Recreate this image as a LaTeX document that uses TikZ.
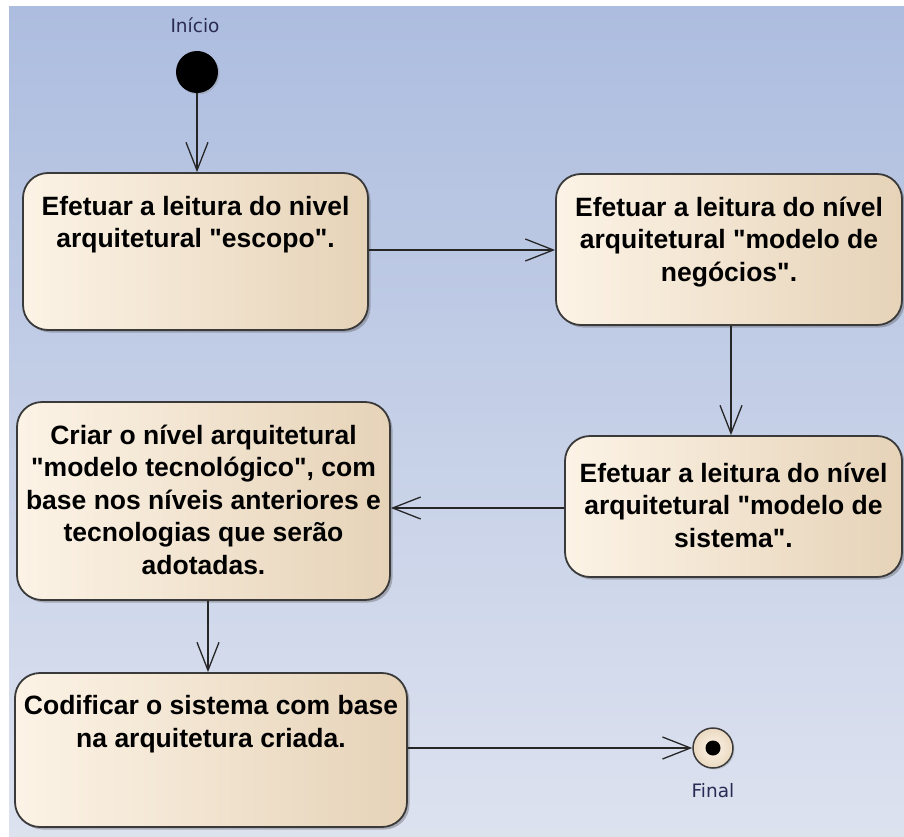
\documentclass[tikz,border=0pt]{standalone}
\usepackage{fontspec}
\setmainfont{Liberation Sans}[Ligatures=TeXOff]
\newfontfamily\lblfont{DejaVu Sans}
\usetikzlibrary{arrows.meta,shadows}
\definecolor{bgtop}{HTML}{ADBDDF}
\definecolor{bgbot}{HTML}{DDE2EF}
\definecolor{boxL}{HTML}{FCF3E6}
\definecolor{boxM}{HTML}{F9EEDE}
\definecolor{boxR}{HTML}{E6D3B8}
\definecolor{edge}{HTML}{3A3A3A}
\definecolor{lbl}{HTML}{2A2A55}
\tikzset{
  actbox/.style={rectangle, rounded corners=25pt, draw=edge, line width=1.8pt,
    left color=boxL, middle color=boxM, right color=boxR, inner sep=0pt,
    drop shadow={shadow xshift=2.5pt, shadow yshift=-2.5pt, opacity=0.35, fill=black!70}},
  acttext/.style={anchor=north, inner sep=0pt, align=center, text=black,
    font=\bfseries\fontsize{26.5}{32.5}\selectfont},
  flow/.style={line width=1.3pt, draw=black!85, -{Straight Barb[length=28pt,width=22pt,line width=1.3pt]}},
  smalllbl/.style={font=\lblfont\fontsize{18.5}{22}\selectfont, text=lbl, inner sep=0pt}
}
\begin{document}
\begin{tikzpicture}[x=1pt,y=-1pt]
\useasboundingbox (0,0) rectangle (904,837);
\fill[white] (0,0) rectangle (904,837);
\fill[top color=bgtop, bottom color=bgbot] (9,7) rectangle (904,837);

% initial and final nodes
\node[circle, fill=black, minimum size=42pt, inner sep=0pt,
  drop shadow={shadow xshift=1.5pt, shadow yshift=-1.5pt, opacity=0.3}] (start) at (197,72) {};
\node[smalllbl] (startlbl) at (195,25) {Início};

\node[circle, draw=edge, line width=1.5pt, inner color=boxL, outer color=boxR!80!boxL,
  minimum size=40pt, inner sep=0pt,
  drop shadow={shadow xshift=1.5pt, shadow yshift=-1.5pt, opacity=0.3}] (fin) at (713,748) {};
\node[circle, fill=black, minimum size=15pt, inner sep=0pt] (findot) at (fin.center) {};
\node[smalllbl] (finlbl) at (713,791) {Final};

% activity boxes
\node[actbox, minimum width=345pt, minimum height=157pt] (b1) at (195.5,251.5) {};
\node[acttext] (b1t) at ([yshift=-23.5pt]b1.north) {Efetuar a leitura do nivel\\arquitetural "escopo".};

\node[actbox, minimum width=346pt, minimum height=151pt] (b2) at (729,249.5) {};
\node[acttext] (b2t) at ([yshift=-23.5pt]b2.north) {Efetuar a leitura do nível\\arquitetural "modelo de\\negócios".};

\node[actbox, minimum width=337pt, minimum height=141pt] (b3) at (733.5,506.5) {};
\node[acttext] (b3t) at ([yshift=-27.5pt]b3.north) {Efetuar a leitura do nível\\arquitetural "modelo de\\sistema".};

\node[actbox, minimum width=373pt, minimum height=198pt] (b4) at (203.5,501) {};
\node[acttext] (b4t) at ([yshift=-23.5pt]b4.north) {Criar o nível arquitetural\\"modelo tecnológico", com\\base nos níveis anteriores e\\tecnologias que serão\\adotadas.};

\node[actbox, minimum width=392pt, minimum height=154pt] (b5) at (211,750) {};
\node[acttext] (b5t) at ([yshift=-23pt]b5.north) {Codificar o sistema com base\\na arquitetura criada.};

% connectors
\draw[flow] (start) -- (start |- b1.north);
\draw[flow] ([yshift=1.5pt]b1.east) -- ([yshift=1.5pt]b1.east -| b2.west);
\draw[flow] ([xshift=2pt]b2.south) -- ([xshift=2pt]b2.south |- b3.north);
\draw[flow] ([yshift=-1.5pt]b3.west) -- ([yshift=-1.5pt]b3.west -| b4.east);
\draw[flow] ([xshift=4.5pt]b4.south) -- ([xshift=4.5pt]b4.south |- b5.north);
\draw[flow] (b5.east |- fin) -- (fin.west);
\end{tikzpicture}
\end{document}
